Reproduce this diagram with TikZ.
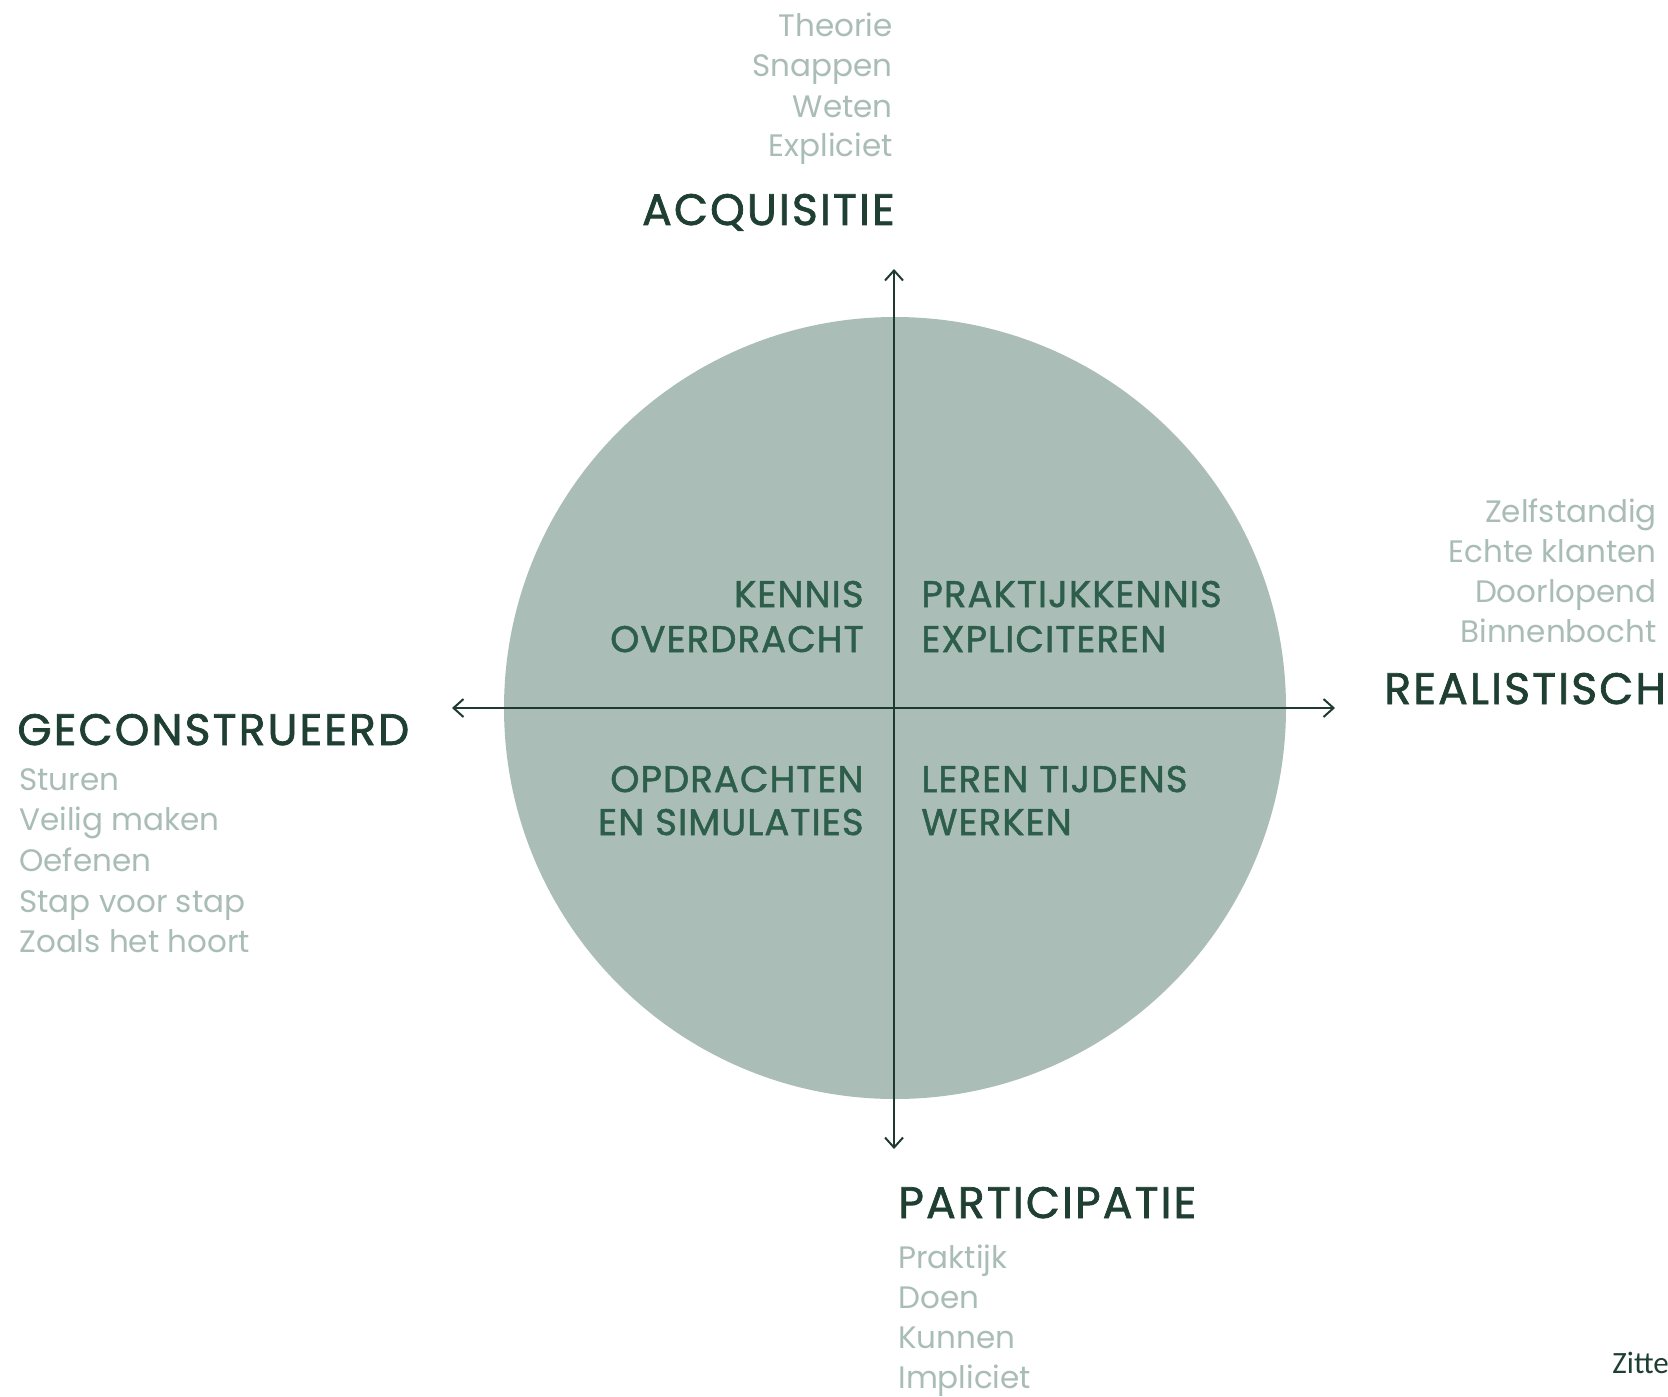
\documentclass[tikz,border=0pt]{standalone}
\usepackage{fontspec}
\setmainfont{Poppins}
\newfontfamily\headfont{Poppins}[FakeBold=1.6, LetterSpace=5]
\newfontfamily\quadfont{Poppins}[FakeBold=1.4, LetterSpace=3]
\newfontfamily\calibrifont{Carlito}
\usetikzlibrary{arrows.meta}

\definecolor{discgreen}{HTML}{ABBDB7}
\definecolor{headgreen}{HTML}{1F3F33}
\definecolor{quadgreen}{HTML}{2D5E4C}
\definecolor{wordgrey}{HTML}{A9BCB5}
\definecolor{axisgreen}{HTML}{1F3A30}

\begin{document}
\begin{tikzpicture}[x=0.5pt, y=-0.5pt,
  head/.style={inner sep=0pt, text=headgreen, font=\headfont\fontsize{22}{26}\selectfont},
  quad/.style={inner sep=0pt, text=quadgreen, font=\quadfont\fontsize{18.5}{22}\selectfont},
  word/.style={inner sep=0pt, text=wordgrey, font=\fontsize{15.5}{19}\selectfont},
  axis/.style={draw=axisgreen, line width=1pt,
    {Straight Barb[length=5pt,width=9pt]}-{Straight Barb[length=5pt,width=9pt]}}]
\useasboundingbox (0,0) rectangle (1668,1396);

\coordinate (centre) at (895,708);
\coordinate (north) at (894,269);
\coordinate (south) at (894,1149);
\coordinate (west) at (452,708);
\coordinate (east) at (1335,708);

% disc and axes
\fill [discgreen] (centre) circle [radius=195.5pt];
\draw [axis] (south) -- (north);
\draw [axis] (west) -- (east);

% quadrants
\node [quad, anchor=base east] (kennis) at (864,607) {KENNIS};
\node [quad, anchor=base east] (overdracht) at (864,652) {OVERDRACHT};
\node [quad, anchor=base west] (praktijk) at (921,607) {PRAKTIJKKENNIS};
\node [quad, anchor=base west] (expliciteren) at (921,652) {EXPLICITEREN};
\node [quad, anchor=base east] (opdrachten) at (864,792) {OPDRACHTEN};
\node [quad, anchor=base east] (simulaties) at (864,835) {EN SIMULATIES};
\node [quad, anchor=base west] (leren) at (921,792) {LEREN TIJDENS};
\node [quad, anchor=base west] (werken) at (921,835) {WERKEN};

% top
\node [word, anchor=base east] (theorie) at (893,37) {Theorie};
\node [word, anchor=base east] (snappen) at (893,77) {Snappen};
\node [word, anchor=base east] (weten) at (893,118) {Weten};
\node [word, anchor=base east] (expliciet) at (893,157) {Expliciet};
\node [head, anchor=base east] (acquisitie) at (895,225) {ACQUISITIE};

% right
\node [word, anchor=base east] (zelfstandig) at (1657,522) {Zelfstandig};
\node [word, anchor=base east] (klanten) at (1657,562) {Echte klanten};
\node [word, anchor=base east] (doorlopend) at (1657,602) {Doorlopend};
\node [word, anchor=base east] (binnenbocht) at (1657,642) {Binnenbocht};
\node [head, anchor=base west] (realistisch) at (1384,704) {REALISTISCH};

% left
\node [head, anchor=base west] (geconstrueerd) at (17,745) {GECONSTRUEERD};
\node [word, anchor=base west] (sturen) at (19,790) {Sturen};
\node [word, anchor=base west] (veilig) at (19,830) {Veilig maken};
\node [word, anchor=base west] (oefenen) at (19,871) {Oefenen};
\node [word, anchor=base west] (stap) at (19,912) {Stap voor stap};
\node [word, anchor=base west] (zoals) at (19,952) {Zoals het hoort};

% bottom
\node [head, anchor=base west] (participatie) at (898,1218) {PARTICIPATIE};
\node [word, anchor=base west] (praktijkw) at (898,1268) {Praktijk};
\node [word, anchor=base west] (doen) at (898,1308) {Doen};
\node [word, anchor=base west] (kunnen) at (898,1348) {Kunnen};
\node [word, anchor=base west] (impliciet) at (898,1388) {Impliciet};

\node [inner sep=0pt, text=headgreen, anchor=base west,
  font=\calibrifont\fontsize{15.5}{18}\selectfont] (zitter) at (1612,1373) {Zitter};

\end{tikzpicture}
\end{document}
